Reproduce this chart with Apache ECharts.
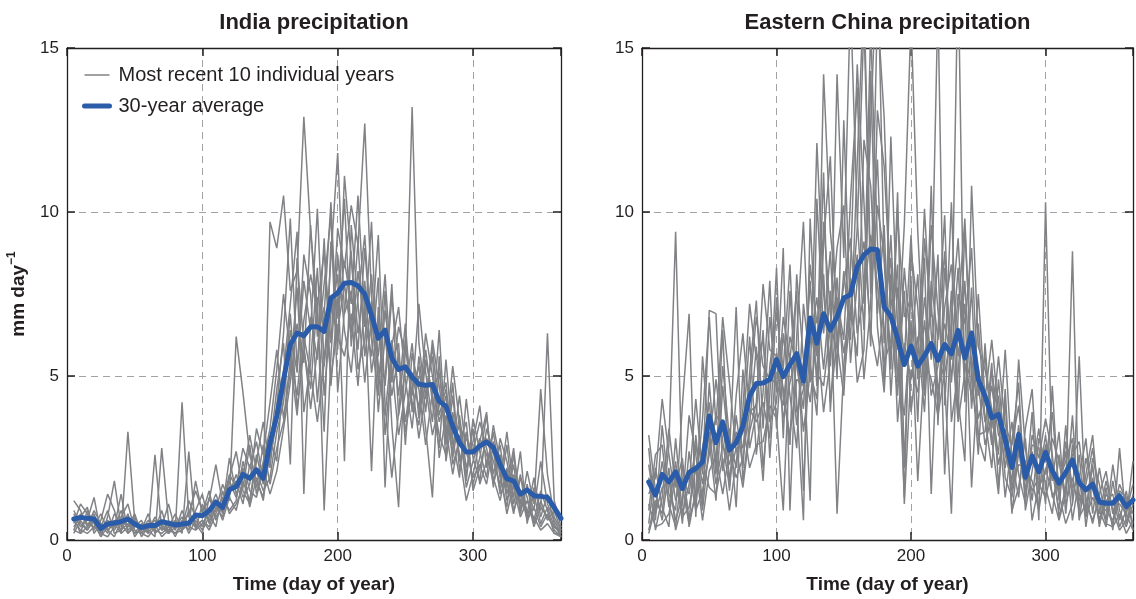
<!DOCTYPE html>
<html><head><meta charset="utf-8">
<script src="https://cdn.jsdelivr.net/npm/echarts@6/dist/echarts.min.js"></script>
<style>html,body{margin:0;padding:0;background:#fff}#c{width:1136px;height:599px}</style>
</head><body><div id="c"></div>
<script>
// ---------- DATA ----------
const days = [5,10,15,20,25,30,35,40,45,50,55,60,65,70,75,80,85,90,95,100,105,110,115,120,125,130,135,140,145,150,155,160,165,170,175,180,185,190,195,200,205,210,215,220,225,230,235,240,245,250,255,260,265,270,275,280,285,290,295,300,305,310,315,320,325,330,335,340,345,350,355,360,365];
const xTickValues = [0, 100, 200, 300];
const yTickValues = [0, 5, 10, 15];
const panelTitles = ['India precipitation', 'Eastern China precipitation'];
const greyName = 'Most recent 10 individual years';
const avgName = '30-year average';

const indiaAvg = [0.64,0.69,0.66,0.64,0.35,0.49,0.52,0.56,0.64,0.49,
  0.38,0.44,0.44,0.56,0.51,0.46,0.49,0.51,0.76,0.74,
  0.89,1.16,0.99,1.53,1.63,2.0,1.88,2.14,1.88,2.97,
  3.78,4.89,5.96,6.31,6.23,6.5,6.5,6.36,7.38,7.53,
  7.83,7.85,7.75,7.5,6.85,6.15,6.4,5.55,5.2,5.28,
  4.97,4.75,4.72,4.74,4.23,4.08,3.47,2.97,2.68,2.68,
  2.87,2.99,2.82,2.31,1.87,1.80,1.40,1.53,1.35,1.33,
  1.30,0.99,0.66];
const india1 = [1.2,0.9,0.4,0.8,0.2,0.5,0.3,0.7,1.1,0.3, 0.2,0.1,0.4,0.6,0.3,0.2,0.5,0.8,1.5,0.9, 1.2,2.3,1.1,2.0,1.6,2.8,2.2,3.0,1.8,9.7, 8.9,10.5,7.6,8.2,12.9,9.4,7.1,8.8,6.0,9.5, 8.3,10.2,9.0,12.7,7.4,5.6,8.1,4.8,6.5,5.7, 13.2,6.0,4.3,5.9,3.8,4.6,2.9,3.5,1.6,2.4, 3.1,2.6,1.9,1.2,2.2,0.9,1.5,0.6,1.0,0.4, 0.8,0.3,0.1];
const india2 = [0.5,1.1,0.8,0.3,0.6,1.4,0.9,0.2,3.3,0.6, 0.1,0.4,0.3,0.9,0.2,0.6,0.4,1.2,0.7,0.4, 0.9,1.4,0.8,1.9,2.7,1.5,1.1,2.4,3.6,2.2, 4.1,6.3,9.8,5.2,7.9,6.4,10.1,5.3,8.6,11.8, 6.9,7.6,5.8,8.9,6.2,9.3,4.1,1.9,3.9,6.1, 4.4,7.2,5.1,3.6,6.4,2.9,4.8,2.1,3.3,1.7, 2.5,3.8,2.0,2.9,1.4,2.3,0.8,1.7,0.5,1.2, 0.6,0.9,0.3];
const india3 = [0.3,0.2,0.9,0.5,0.1,0.7,1.8,0.4,0.6,0.2, 0.5,0.3,0.1,2.8,0.6,0.3,0.9,0.4,0.3,1.1, 0.6,0.9,1.7,1.2,6.2,4.5,2.6,1.8,1.3,3.1, 2.4,5.1,7.2,9.4,1.4,6.8,5.5,9.2,4.7,7.3, 10.4,5.9,8.2,6.5,9.7,4.6,7.0,5.3,3.2,4.5, 6.0,3.7,5.8,4.2,2.8,5.5,3.1,1.9,4.3,2.5, 1.8,3.4,2.7,1.5,2.9,1.1,2.0,0.7,1.4,0.5, 1.0,0.4,0.2];
const india4 = [0.8,0.4,0.6,1.3,0.2,0.1,0.4,0.9,0.3,0.5, 0.3,0.8,0.2,0.4,1.1,0.3,4.2,0.7,0.5,0.2, 1.3,0.7,1.0,2.5,1.4,1.9,3.2,2.1,1.5,1.9, 3.3,4.2,6.4,5.1,8.7,7.5,4.2,6.9,10.3,5.8, 11.1,8.6,6.3,7.9,5.1,6.6,4.7,7.4,5.5,3.6, 5.1,4.0,6.3,5.0,3.6,4.4,2.5,3.8,2.2,3.0, 4.1,2.2,3.3,1.9,1.0,2.6,1.2,0.8,1.9,0.7, 1.4,0.5,0.1];
const india5 = [0.2,0.6,0.3,0.7,0.4,0.9,0.2,0.3,0.8,0.1, 0.4,0.2,2.6,0.3,0.5,0.1,0.6,0.3,0.9,1.4, 0.5,1.2,0.9,1.4,2.0,1.3,1.7,3.4,2.6,4.2, 5.8,3.7,5.1,7.7,3.9,5.4,8.3,4.4,6.9,8.1, 2.4,9.6,7.2,4.8,6.8,5.2,3.8,5.9,7.1,4.9, 3.4,5.6,3.9,6.1,4.7,3.2,5.3,3.6,1.8,3.7, 2.7,1.9,3.5,2.4,1.6,2.8,0.9,2.1,1.1,4.6, 2.0,0.7,0.3];
const india6 = [0.6,0.3,0.2,0.4,0.8,0.3,0.5,0.2,0.4,0.7, 0.2,0.5,0.3,0.2,0.4,0.8,0.3,0.6,0.4,0.6, 0.3,0.8,1.3,0.9,1.2,2.4,1.5,1.3,2.2,1.4, 2.1,3.4,4.8,6.6,5.4,9.6,6.2,7.1,5.0,6.4, 7.8,6.3,9.1,5.6,7.3,3.9,6.2,4.4,5.7,3.3, 4.6,5.3,3.4,1.3,5.6,2.4,3.9,2.6,1.2,2.0, 3.0,3.9,1.6,3.1,2.4,1.3,2.7,0.5,1.6,0.9, 6.3,1.2,0.4];
const india7 = [0.4,0.7,1.0,0.2,0.5,0.2,0.8,0.5,0.2,0.4, 0.6,0.2,0.5,0.1,0.3,0.5,0.2,2.7,0.3,0.5, 0.8,0.4,1.5,0.8,1.1,1.6,2.9,1.4,2.4,3.4, 5.2,7.5,5.6,4.4,6.7,8.1,6.9,3.3,9.1,6.8, 8.5,7.2,10.5,6.8,5.6,8.0,1.6,6.1,4.4,6.6, 3.9,5.0,4.7,3.2,4.1,4.8,2.3,3.0,3.6,1.5, 2.2,3.1,2.4,1.7,3.3,1.6,0.7,1.2,0.6,1.5, 0.9,0.2,0.1];
const india8 = [0.9,0.5,0.3,0.6,0.1,0.4,0.6,0.3,0.5,0.2, 0.3,0.6,0.4,0.5,0.2,0.4,0.7,0.2,0.6,0.3, 0.7,1.1,0.6,1.3,0.9,1.8,1.2,2.6,1.7,2.5, 3.6,4.5,6.9,4.0,5.8,4.6,7.4,0.9,5.6,8.7, 6.4,5.1,7.4,9.3,6.1,4.4,7.6,3.5,1.0,5.9, 4.2,3.5,5.5,4.4,3.2,2.6,4.4,2.4,3.1,2.7, 3.6,2.8,1.7,2.6,1.2,2.0,1.4,0.9,0.7,0.3, 0.5,0.2,0.2];
const india9 = [0.3,0.8,0.5,0.4,0.3,0.6,0.4,1.4,0.2,0.5, 0.4,0.3,0.7,0.4,0.2,0.6,0.3,0.5,1.8,0.8, 1.5,0.6,1.1,1.8,1.3,2.2,1.0,1.9,1.2,2.8, 4.6,6.0,2.3,8.6,5.9,4.0,5.8,7.8,9.9,4.5, 7.0,8.8,5.2,6.1,8.1,5.3,4.9,7.8,3.8,5.2, 4.8,3.1,4.5,5.6,2.5,3.8,2.7,4.4,2.7,1.9, 2.3,1.7,2.9,1.4,1.8,0.8,1.9,1.3,0.4,1.0, 0.7,0.4,0.3];
const india10 = [0.7,0.2,0.4,0.9,0.5,0.3,0.1,0.6,0.4,0.8, 0.2,0.4,0.6,0.3,0.4,0.2,0.3,0.9,0.4,0.6, 0.4,1.0,0.7,1.6,1.8,1.1,2.3,1.6,2.9,1.7, 2.8,3.6,5.5,3.8,6.2,5.1,3.6,5.4,7.2,6.2, 5.6,6.9,4.7,7.3,2.1,7.1,3.2,5.5,6.0,2.9, 5.7,4.6,2.9,4.5,5.1,3.4,2.0,3.2,2.0,3.4, 1.7,2.4,3.0,2.1,0.8,1.7,1.1,1.6,0.9,2.4, 1.1,0.6,0.2];

const chinaAvg = [1.77,1.37,2.0,1.77,2.08,1.57,2.06,2.18,2.38,3.78,
  2.97,3.6,2.74,2.97,3.47,4.39,4.77,4.79,4.89,5.5,
  4.98,5.35,5.68,4.84,6.77,6.0,6.9,6.4,6.8,7.38,
  7.48,8.34,8.69,8.87,8.85,7.1,6.82,6.15,5.35,5.91,
  5.3,5.62,5.99,5.48,5.96,5.68,6.39,5.55,6.31,4.89,
  4.39,3.73,3.83,3.07,2.21,3.22,1.91,2.56,2.08,2.67,
  2.11,1.73,2.06,2.44,1.75,1.53,1.70,1.16,1.12,1.12,
  1.35,1.02,1.22];
const china1 = [0.3,1.2,0.8,2.9,9.4,1.6,0.5,3.2,1.1,4.8, 2.3,6.4,1.5,3.8,2.2,5.1,7.3,3.4,6.8,4.5, 8.9,0.9,6.2,9.7,4.8,12.1,7.5,5.3,14.2,8.6, 16.5,9.8,6.4,12.7,18.0,8.5,5.2,10.6,2.2,7.9, 3.6,9.2,6.8,16.4,4.1,7.6,3.8,9.5,5.2,2.6, 6.0,3.1,1.4,4.6,0.8,2.7,1.5,3.9,0.6,10.3, 2.1,0.9,3.5,1.2,5.6,0.7,2.3,0.4,1.6,0.3, 2.8,0.5,1.4];
const china2 = [2.8,0.6,3.5,1.4,0.9,4.1,6.9,0.7,5.6,3.0, 1.2,4.7,2.6,7.1,1.8,3.5,5.9,2.2,4.4,8.3, 3.1,7.6,4.2,0.6,9.8,5.6,11.2,3.9,7.4,6.1, 10.4,13.8,7.2,15.6,9.1,4.7,12.3,6.5,1.3,8.8, 7.1,4.4,10.8,3.5,8.3,5.9,17.5,4.2,7.7,3.1, 2.4,5.2,3.6,1.3,3.0,4.8,0.9,2.1,3.4,1.6, 0.8,2.6,1.3,3.8,0.6,2.0,3.2,0.9,0.4,1.8, 0.6,1.5,0.3];
const china3 = [0.5,2.2,1.0,0.4,3.1,0.8,1.7,4.3,2.0,7.0, 6.9,2.1,3.4,1.0,5.2,2.8,3.9,6.4,2.5,5.7, 4.6,2.9,8.1,5.5,1.2,10.4,6.3,8.8,4.9,12.8, 6.7,9.5,15.8,8.2,11.6,6.0,9.3,4.8,7.6,3.9, 5.8,8.6,1.4,6.4,9.9,3.6,5.1,7.9,4.0,6.6, 3.7,2.2,4.9,2.6,1.8,5.5,2.8,1.2,3.1,2.4, 3.9,1.5,2.7,0.6,1.9,3.1,0.8,2.2,1.0,0.5, 1.3,0.7,2.4];
const china4 = [1.9,0.3,1.3,3.4,1.6,2.5,0.4,1.5,3.7,6.8, 3.5,6.8,4.8,2.7,3.3,6.2,2.6,4.5,7.9,3.4, 6.3,4.4,2.8,7.2,5.4,3.8,9.1,11.7,6.0,4.4, 8.3,14.5,10.3,5.9,13.1,11.4,7.4,5.8,9.6,15.9, 9.4,5.3,7.2,4.6,5.4,10.3,4.3,2.4,10.8,5.9, 5.2,4.0,2.6,5.8,2.4,1.3,3.4,4.6,1.4,2.9, 1.8,3.3,0.8,2.9,1.4,0.9,2.5,1.7,0.6,2.3, 0.9,0.4,1.1];
const china5 = [3.2,1.5,0.6,2.2,0.3,1.1,3.8,2.6,0.9,2.9, 4.9,3.0,1.6,4.4,6.3,3.9,4.1,1.8,5.3,6.9, 5.2,8.4,3.9,4.6,7.9,4.7,14.2,9.4,7.2,5.7, 7.1,5.6,12.2,10.8,6.9,9.6,4.4,7.7,5.5,9.3, 4.9,7.4,5.5,8.7,2.0,6.8,9.2,5.4,4.4,7.5, 4.3,6.1,3.9,2.2,3.6,2.0,1.1,3.2,2.5,3.7, 2.6,0.7,1.6,2.6,3.0,1.3,0.5,1.4,2.1,0.8, 1.7,1.2,0.5];
const china6 = [0.9,2.6,2.9,1.0,2.4,0.5,2.7,1.1,2.8,4.2, 2.0,5.3,3.1,2.2,4.0,7.2,5.5,6.1,3.6,4.2, 6.8,5.5,7.6,1.5,6.6,5.1,4.7,6.5,8.9,10.2, 5.4,7.9,9.1,6.4,5.3,7.1,8.6,3.6,6.0,4.9, 6.2,3.9,7.9,6.1,8.8,4.8,7.5,6.6,8.9,4.4, 5.6,3.4,5.6,3.5,2.9,4.1,1.8,2.7,1.6,2.1, 3.1,2.4,1.1,1.9,0.9,2.5,1.6,0.5,1.2,1.4, 0.4,0.9,1.7];
const china7 = [1.4,1.9,4.3,2.6,1.2,1.9,1.4,2.9,1.7,3.3, 1.7,2.9,2.3,3.3,2.8,4.6,6.8,5.3,4.9,4.8, 4.1,6.2,5.3,4.0,8.4,6.6,8.1,4.2,6.1,7.8, 9.2,6.3,7.5,9.3,7.8,5.4,6.1,8.4,1.1,5.2, 4.5,6.7,4.4,5.3,6.6,5.5,8.3,4.6,5.6,3.7, 4.5,2.9,4.4,1.9,1.3,2.8,2.4,1.5,1.9,3.2, 1.3,1.8,2.4,3.1,1.2,1.7,2.8,1.1,0.9,0.6, 1.5,1.3,0.8];
const china8 = [2.3,0.8,1.6,1.8,0.6,1.3,2.1,0.9,1.5,2.6, 3.8,3.5,1.9,2.8,1.6,3.3,4.2,7.8,5.8,5.6, 3.7,4.8,5.7,3.3,5.1,4.3,9.7,6.9,5.4,8.2, 6.1,11.5,16.8,7.5,10.2,8.7,5.5,9.9,6.8,7.4, 5.4,10.1,6.3,4.2,7.1,8.4,5.6,7.2,1.6,5.2, 3.6,4.7,3.2,2.9,1.5,3.5,1.3,2.9,2.8,1.1, 4.7,1.2,3.0,1.6,1.8,0.7,1.3,0.8,1.8,0.9, 0.3,0.6,0.9];
const china9 = [1.1,0.4,0.5,0.8,1.9,0.7,1.0,2.2,0.6,2.1, 2.6,1.4,2.7,1.9,2.5,4.0,3.6,4.2,3.1,7.4, 4.4,3.2,4.9,4.7,6.0,7.4,5.2,7.6,0.8,5.3, 8.0,4.8,5.8,14.3,6.5,4.5,8.1,5.1,3.8,6.7, 1.8,5.5,4.9,3.8,5.1,6.2,3.6,5.1,6.3,4.8, 2.9,3.8,2.3,3.4,1.6,2.3,2.2,1.8,0.9,2.2, 1.4,0.6,1.4,8.8,0.7,1.1,0.6,1.3,0.5,0.4, 0.8,0.2,0.6];
const china10 = [0.2,1.0,2.4,1.1,0.4,2.3,0.6,1.4,2.4,1.6, 1.4,2.5,0.9,2.4,3.6,2.2,2.9,3.0,4.1,3.7, 0.9,5.7,3.5,5.4,4.2,6.3,3.9,5.5,8.0,4.9, 6.9,8.7,4.9,7.2,16.2,12.9,6.8,4.4,8.3,5.8, 8.1,4.6,9.6,7.0,4.8,0.8,6.9,9.8,4.9,3.2, 3.3,5.4,1.6,4.2,0.9,1.6,3.1,0.6,1.7,1.3, 2.2,1.4,0.5,1.1,2.6,0.4,1.9,0.6,1.4,1.1, 1.1,0.8,0.3];

const indiaYears = [india1,india2,india3,india4,india5,india6,india7,india8,india9,india10];
const chinaYears = [china1,china2,china3,china4,china5,china6,china7,china8,china9,china10];
[indiaAvg, chinaAvg].concat(indiaYears, chinaYears).forEach((a, k) => {
  if (a.length !== days.length) throw new Error('array ' + k + ' has length ' + a.length);
});

// ---------- STYLE ----------
const DARK = '#231f20';
const GREY = '#808285';
const BLUE = '#2b5ca9';
const FONT = '"Liberation Sans", Arial, sans-serif';
const GRID_LINE = { show: true, showMinLine: false, showMaxLine: false,
  lineStyle: { type: [7, 5], color: '#a0a2a5', width: 1 } };

const pair = vals => days.map((d, i) => [d, vals[i]]);

const grids = [
  { left: 67, top: 48, width: 494, height: 493 },
  { left: 642, top: 48, width: 493, height: 493 }
];

const xAxes = [], yAxes = [], series = [];
[0, 1].forEach(g => {
  xAxes.push({
    type: 'value', gridIndex: g, min: 0, max: 365, interval: 100, position: 'bottom',
    axisLine: { show: true, onZero: false, lineStyle: { color: DARK, width: 1.3 } },
    axisTick: { show: true, inside: true, length: 8, lineStyle: { color: DARK, width: 1.5 } },
    axisLabel: { fontSize: 17, color: DARK, fontFamily: FONT, margin: 8,
      formatter: v => (xTickValues.indexOf(v) >= 0 ? String(v) : '') },
    splitLine: GRID_LINE,
    name: 'Time (day of year)', nameLocation: 'middle', nameGap: 35,
    nameTextStyle: { fontSize: 19, fontWeight: 'bold', color: DARK, fontFamily: FONT }
  });
  xAxes.push({
    type: 'value', gridIndex: g, min: 0, max: 365, interval: 100, position: 'top',
    axisLine: { show: true, onZero: false, lineStyle: { color: DARK, width: 1.3 } },
    axisTick: { show: true, inside: true, length: 8, lineStyle: { color: DARK, width: 1.5 } },
    axisLabel: { show: false }, splitLine: { show: false },
    name: panelTitles[g], nameLocation: 'middle', nameGap: 14,
    nameTextStyle: { fontSize: 22, fontWeight: 'bold', color: DARK, fontFamily: FONT }
  });
  const yLeft = {
    type: 'value', gridIndex: g, min: 0, max: 15, interval: 5, position: 'left',
    axisLine: { show: true, onZero: false, lineStyle: { color: DARK, width: 1.3 } },
    axisTick: { show: true, inside: true, length: 8, lineStyle: { color: DARK, width: 1.5 } },
    axisLabel: { fontSize: 17, color: DARK, fontFamily: FONT, margin: 8,
      formatter: v => (yTickValues.indexOf(v) >= 0 ? String(v) : '') },
    splitLine: GRID_LINE
  };
  if (g === 0) {
    Object.assign(yLeft, {
      name: '{a|mm day}{b|\u22121}', nameLocation: 'middle', nameGap: 39, nameRotate: 90,
      nameTextStyle: { rich: {
        a: { fontSize: 19, fontWeight: 'bold', color: DARK, fontFamily: FONT, lineHeight: 22, verticalAlign: 'bottom' },
        b: { fontSize: 12, fontWeight: 'bold', color: DARK, fontFamily: FONT, lineHeight: 22, verticalAlign: 'top' }
      } }
    });
  }
  yAxes.push(yLeft);
  yAxes.push({
    type: 'value', gridIndex: g, min: 0, max: 15, interval: 5, position: 'right',
    axisLine: { show: true, onZero: false, lineStyle: { color: DARK, width: 1.3 } },
    axisTick: { show: true, inside: true, length: 8, lineStyle: { color: DARK, width: 1.5 } },
    axisLabel: { show: false }, splitLine: { show: false }
  });

  const years = g === 0 ? indiaYears : chinaYears;
  const avg = g === 0 ? indiaAvg : chinaAvg;
  years.forEach(v => series.push({
    type: 'line', name: greyName, xAxisIndex: g * 2, yAxisIndex: g * 2,
    data: pair(v), symbol: 'none', silent: true, z: 2,
    lineStyle: { color: GREY, width: 1.5 }, itemStyle: { color: GREY }
  }));
  series.push({
    type: 'line', name: avgName, xAxisIndex: g * 2, yAxisIndex: g * 2,
    data: pair(avg), symbol: 'none', silent: true, z: 3,
    lineStyle: { color: BLUE, width: 5, join: 'round', cap: 'round' }, itemStyle: { color: BLUE }
  });
});

const chart = echarts.init(document.getElementById('c'), null, { renderer: 'canvas' });
chart.setOption({
  animation: false,
  backgroundColor: '#ffffff',
  grid: grids,
  xAxis: xAxes,
  yAxis: yAxes,
  legend: {
    orient: 'vertical', left: 82, top: 65, padding: 0, itemWidth: 25, itemHeight: 14, itemGap: 11,
    selectedMode: false,
    textStyle: { fontSize: 20, color: DARK, fontFamily: FONT, padding: [0, 0, 0, 4] },
    data: [
      { name: greyName, lineStyle: { color: GREY, width: 1.5 }, itemStyle: { color: GREY, opacity: 0, borderWidth: 0 } },
      { name: avgName, lineStyle: { color: BLUE, width: 5 }, itemStyle: { color: BLUE, opacity: 0, borderWidth: 0 } }
    ]
  },
  series: series
});
</script>
</body></html>
